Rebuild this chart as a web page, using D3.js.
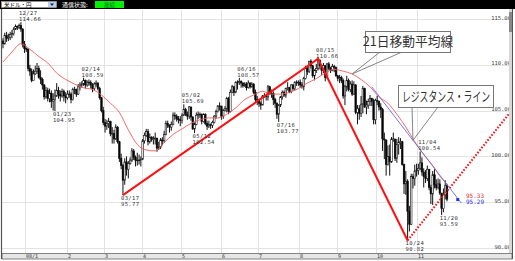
<!DOCTYPE html>
<html><head><meta charset="utf-8">
<script src="https://cdn.jsdelivr.net/npm/d3@7"></script>
<style>html,body{margin:0;padding:0;background:#fff;overflow:hidden}svg{display:block}</style>
</head><body><svg id="c" width="515" height="261"></svg>
<script>
// ---------- DATA (USD/JPY daily) ----------
const firstOpen = 112.6;
const closeDec07 = [112.3,113.2,112.9,113.0,113.3,113.4,113.9,114.2,114.1,114.3,113.9,112.2,111.8];
const highDec07  = [112.9,113.5,113.6,113.4,113.6,113.8,114.1,114.4,114.3,114.5,114.66,114.0,112.6];
const lowDec07   = [111.8,112.2,112.5,112.6,112.7,112.9,113.2,113.8,113.8,113.9,113.6,111.9,111.3];
const closeJan = [111.7,109.6,109.3,108.3,109.0,109.3,109.6,108.6,108.4,107.8,106.5,107.2,106.3,106.9,106.0,106.2,106.6,107.2,106.8,106.6,107.1,106.6,106.4];
const highJan  = [111.9,111.8,110.0,109.6,109.5,109.9,110.2,109.9,109.4,108.6,107.9,107.6,107.5,107.4,107.2,106.9,107.3,108.0,107.6,107.2,107.4,107.3,107.0];
const lowJan   = [111.4,109.3,108.8,108.1,108.7,108.9,109.0,108.5,107.9,107.3,106.2,106.3,106.0,105.9,105.3,105.0,104.95,106.5,106.3,106.0,106.4,106.0,105.8];
const closeFeb = [106.8,106.8,106.2,107.3,107.3,106.8,107.6,107.8,107.9,108.3,107.8,108.1,108.1,107.8,107.4,107.9,108.0,107.4,106.4,105.0,103.7];
const highFeb  = [107.2,107.2,107.0,107.5,107.6,107.4,107.9,108.1,108.2,108.59,108.4,108.3,108.4,108.3,108.0,108.1,108.3,108.1,107.6,106.5,105.4];
const lowFeb   = [106.2,106.4,105.8,106.1,106.8,106.5,106.7,107.2,107.5,107.7,107.4,107.6,107.7,107.4,107.0,107.2,107.6,107.2,106.2,104.8,103.4];
const closeMar = [103.3,103.6,103.8,102.5,102.5,101.9,103.2,101.6,99.8,99.0,97.4,99.4,98.6,99.2,99.6,100.6,99.9,99.6,99.6,99.6,99.7];
const highMar  = [104.1,104.0,104.2,103.9,103.2,102.9,103.5,103.3,101.7,100.3,99.2,99.8,100.0,99.5,99.9,100.9,100.8,100.1,100.4,100.2,100.0];
const lowMar   = [102.6,102.9,103.1,102.2,101.4,101.4,101.8,101.4,99.4,98.6,95.77,96.9,97.9,97.6,99.1,99.4,99.6,98.9,99.0,99.1,98.9];
const closeApr = [101.7,102.3,102.7,101.6,102.1,101.9,101.9,102.0,100.9,101.0,101.8,101.7,102.4,103.6,103.4,103.2,103.5,104.5,104.4,104.1,104.0,103.9];
const highApr  = [101.9,102.6,103.0,103.0,102.5,102.2,102.2,102.6,102.0,101.6,102.0,102.1,102.8,103.9,103.9,103.5,103.8,104.8,104.8,104.6,104.4,104.4];
const lowApr   = [99.6,101.4,102.1,101.2,101.4,101.6,101.3,101.3,100.5,100.7,100.8,101.2,101.5,102.3,103.1,102.6,102.8,103.4,104.0,103.8,103.6,103.3];
const closeMay = [104.5,105.1,104.6,104.4,105.4,104.3,103.0,103.5,104.5,104.6,104.6,103.8,104.6,103.6,103.3,103.5,103.4,103.7,104.4,104.9,105.5,105.5];
const highMay  = [104.7,105.69,105.3,104.9,105.5,105.4,104.4,103.7,104.8,104.9,104.8,104.7,104.7,104.7,103.9,103.9,103.6,103.9,104.5,105.1,105.6,105.9];
const lowMay   = [103.6,104.4,104.4,104.0,104.1,103.9,102.9,102.54,103.4,104.1,104.2,103.5,103.7,103.4,102.9,103.1,103.0,103.1,103.6,104.1,104.8,105.0];
const closeJun = [104.4,105.0,105.2,106.3,104.9,107.0,107.6,107.0,108.1,108.1,108.2,108.0,107.7,107.9,107.5,108.0,107.6,107.9,107.0,106.2,106.2];
const highJun  = [105.5,105.2,105.5,106.5,106.5,107.3,107.8,107.7,108.2,108.3,108.57,108.3,108.1,108.1,108.1,108.3,108.1,108.1,108.0,107.3,106.6];
const lowJun   = [104.0,104.1,104.9,104.8,104.6,104.8,106.9,106.6,106.9,107.3,107.8,107.5,107.5,107.6,107.2,107.4,107.4,107.5,106.8,105.9,105.6];
const closeJul = [105.8,105.6,106.6,106.6,106.5,107.6,106.8,106.9,106.2,105.8,104.6,105.6,106.5,107.0,106.7,107.4,107.5,107.1,107.8,107.4,108.1,108.1,108.1];
const highJul  = [106.3,106.0,106.7,106.9,106.7,107.8,107.7,107.3,107.1,106.4,105.9,105.7,106.6,107.2,107.2,107.5,108.1,107.6,107.9,107.9,108.2,108.3,108.3];
const lowJul   = [105.4,105.1,105.6,106.4,106.1,106.1,106.8,106.4,105.6,105.3,104.1,103.77,105.4,106.2,106.5,106.4,107.2,106.9,106.9,107.2,107.2,107.7,107.7];
const closeAug = [107.8,107.6,108.5,109.6,109.3,110.4,109.9,108.8,109.4,109.6,110.5,109.9,109.4,109.9,108.6,110.1,109.6,109.4,109.8,109.7,108.8];
const highAug  = [108.4,108.1,108.7,109.9,109.8,110.4,110.6,110.0,109.5,110.1,110.66,110.6,110.0,110.2,110.0,110.2,110.3,109.8,110.1,110.0,109.8];
const lowAug   = [107.5,107.4,107.2,108.4,108.9,109.1,109.6,108.6,108.3,109.1,109.4,109.5,108.9,109.1,108.2,108.5,109.4,109.1,109.3,109.2,108.7];
const closeSep = [108.5,108.6,108.3,106.6,107.6,108.3,107.3,107.9,106.8,107.8,104.8,105.2,104.7,105.7,107.4,105.4,105.6,106.0,106.3,106.0,104.0,106.1];
const highSep  = [108.9,108.9,108.8,108.5,107.8,108.8,108.5,108.2,108.3,108.2,107.9,105.6,105.6,106.6,107.7,107.5,106.1,106.3,106.7,106.4,106.3,106.3];
const lowSep   = [108.2,108.0,108.0,106.3,105.6,107.1,107.1,107.0,106.6,106.7,104.6,103.5,104.0,104.3,104.7,105.3,104.6,105.2,105.5,105.5,103.5,103.5];
const closeOct = [106.0,105.4,105.1,101.9,101.8,99.1,100.0,99.4,101.9,101.9,99.8,101.3,101.5,101.6,99.1,97.0,97.3,94.0,92.6,97.8,97.6,98.4,98.5];
const highOct  = [106.6,106.1,105.8,105.3,102.6,101.8,101.2,101.3,102.1,102.6,101.6,101.9,102.1,102.0,101.7,99.2,98.4,97.5,94.6,98.1,98.1,99.1,99.2];
const lowOct   = [105.6,105.0,104.2,100.6,99.7,97.9,99.0,97.9,99.3,101.6,99.5,99.3,100.2,100.8,99.0,95.9,95.8,90.82,91.8,92.5,96.5,96.8,97.8];
const closeNov = [98.7,99.3,98.3,97.8,97.6,98.6,96.6,95.9,98.0,96.9,96.6,97.0,96.0,94.3,95.8,96.8,95.33];
const highNov  = [99.2,100.54,99.9,98.7,98.5,99.0,98.6,96.9,98.4,98.6,97.5,97.6,97.5,96.0,96.5,97.4,97.0];
const lowNov   = [98.0,98.5,97.9,96.6,97.1,97.3,96.3,94.8,94.7,96.5,96.3,96.4,95.8,93.59,93.9,95.3,95.1];

// 21-day moving average (trading-day index, value)
const maDay   = [0,5,10,15,20,25,30,35,40,45,50,55,60,65,70,75,80,85,90,95,100,105,110,115,120,125,130,135,140,145,150,155,160,165,170,175,180,185,190,195,200,205,210,215,220,225,230,235,240,245,248];
const maValue = [110.3,111.4,112.3,111.7,110.9,110.2,109.1,108.4,107.9,107.5,107.3,106.7,105.8,104.8,102.9,101.3,100.7,100.6,101.5,102.4,103.0,103.6,104.0,104.2,104.2,104.6,105.3,106.2,106.7,107.1,106.8,106.8,107.0,107.4,108.0,108.5,109.1,109.5,109.3,109.0,108.4,107.6,106.5,105.8,104.6,103.2,101.6,100.2,99.0,97.6,97.0];

// labelled highs/lows
const noteDates  = ["12/27","01/23","02/14","03/17","05/02","05/12","06/16","07/16","08/15","10/24","11/04","11/20"];
const notePrices = [114.66,104.95,108.59,95.77,105.69,102.54,108.57,103.77,110.66,90.82,100.54,93.59];
const noteSide   = ["h","l","h","l","h","l","h","l","h","l","h","l"];

const yTicks = [90,95,100,105,110,115];
const monthLabels = ["08/1","2","3","4","5","6","7","8","9","10","11"];
const trendDates = ["03/17","08/15","10/24"];
const projectionEnd = [284, 105.0];        // dotted line end (trading-day index, price)
const resistStart = [206, 107.6];
const resistEnd   = [256, 94.9];
const lastPrice = 95.33, resistNow = 95.29;

// ---------- BUILD ----------
const closes = [].concat(closeDec07,closeJan,closeFeb,closeMar,closeApr,closeMay,closeJun,closeJul,closeAug,closeSep,closeOct,closeNov);
const highs  = [].concat(highDec07,highJan,highFeb,highMar,highApr,highMay,highJun,highJul,highAug,highSep,highOct,highNov);
const lows   = [].concat(lowDec07,lowJan,lowFeb,lowMar,lowApr,lowMay,lowJun,lowJul,lowAug,lowSep,lowOct,lowNov);
const days = d3.timeDay.range(new Date(2007,11,13), new Date(2008,10,26)).filter(d => d.getDay()%6 !== 0);
const fmt = d3.timeFormat("%m/%d");
const data = days.map((d,i) => {
  const o = i === 0 ? firstOpen : closes[i-1], c = closes[i];
  return {i, d, o, c, h: Math.max(highs[i], o, c), l: Math.min(lows[i], o, c)};
});
const idxOf = s => data.findIndex(e => fmt(e.d) === s);

const svg = d3.select("#c");
const x = d3.scaleLinear().domain([0, 248]).range([3, 447]);
const y = d3.scaleLinear().domain([90, 115]).range([248, 19]);

svg.append("rect").attr("width",515).attr("height",261).attr("fill","#fff");

// grid
const grid = svg.append("g");
grid.selectAll("line.h").data(yTicks).join("line")
  .attr("x1",2).attr("x2",509).attr("y1",d=>Math.round(y(d))+0.5).attr("y2",d=>Math.round(y(d))+0.5)
  .attr("stroke","#e3e3e3").attr("stroke-width",1);
const monthStarts = data.filter((e,i)=> i>0 && e.d.getMonth() !== data[i-1].d.getMonth());
grid.selectAll("line.v").data(monthStarts).join("line")
  .attr("x1",d=>Math.round(x(d.i)-0.9)+0.5).attr("x2",d=>Math.round(x(d.i)-0.9)+0.5)
  .attr("y1",10).attr("y2",253).attr("stroke","#e3e3e3").attr("stroke-width",1);

// y labels
svg.append("g").selectAll("text").data(yTicks).join("text")
  .attr("x",511).attr("y",d=>y(d)+0.5).attr("text-anchor","end")
  .attr("font-family","DejaVu Sans Mono").attr("font-size",5.5).attr("fill","#444")
  .text(d=>d.toFixed(2));

// candles
const cg = svg.append("g");
cg.selectAll("line").data(data).join("line")
  .attr("x1",d=>x(d.i)).attr("x2",d=>x(d.i)).attr("y1",d=>y(d.h)).attr("y2",d=>y(d.l))
  .attr("stroke","#111").attr("stroke-width",1);
cg.selectAll("rect").data(data).join("rect")
  .attr("x",d=>x(d.i)-0.8).attr("width",1.6)
  .attr("y",d=>y(Math.max(d.o,d.c))).attr("height",d=>Math.max(0.7, Math.abs(y(d.o)-y(d.c))))
  .attr("fill",d=>d.c>=d.o?"#fff":"#000").attr("stroke","#111").attr("stroke-width",0.6);

// moving average
const maPts = maDay.map((d,k)=>({i:d, v:maValue[k]}));
svg.append("path").datum(maPts)
  .attr("d", d3.line().x(d=>x(d.i)).y(d=>y(d.v)).curve(d3.curveMonotoneX))
  .attr("fill","none").attr("stroke","#f05a5a").attr("stroke-width",0.9);

// trend lines
const tPts = trendDates.map(s => {const k = noteDates.indexOf(s); return [idxOf(s), notePrices[k]];});
svg.append("path").datum(tPts)
  .attr("d", d3.line().x(d=>x(d[0])).y(d=>y(d[1])))
  .attr("fill","none").attr("stroke","#ff1010").attr("stroke-width",2);
svg.append("path").datum([tPts[2], projectionEnd])
  .attr("d", d3.line().x(d=>x(d[0])).y(d=>y(d[1])))
  .attr("fill","none").attr("stroke","#ff1010").attr("stroke-width",2).attr("stroke-dasharray","1.6,1.6");

// resistance line
svg.append("path").datum([resistStart, resistEnd])
  .attr("d", d3.line().x(d=>x(d[0])).y(d=>y(d[1])))
  .attr("fill","none").attr("stroke","#6a6ae0").attr("stroke-width",0.9);
svg.append("rect").attr("x",x(254)-1.5).attr("y",y(resistNow)-1.5).attr("width",3).attr("height",3).attr("fill","#2233ee");
svg.append("text").attr("x",466).attr("y",y(lastPrice)-1.5)
  .attr("font-family","DejaVu Sans Mono").attr("font-size",6).attr("fill","#e83030").text(lastPrice.toFixed(2));
svg.append("text").attr("x",466).attr("y",y(resistNow)+4.5)
  .attr("font-family","DejaVu Sans Mono").attr("font-size",6).attr("fill","#3030e0").text(resistNow.toFixed(2));

// notes
const ng = svg.append("g").attr("font-family","DejaVu Sans Mono").attr("font-size",5.5).attr("fill","#333").attr("letter-spacing",0.4);
noteDates.forEach((s,k) => {
  const i = idxOf(s), p = notePrices[k];
  const xx = x(i) - 2, yy = y(p);
  const b1 = noteSide[k]==="h" ? yy-7 : yy+5;
  ng.append("text").attr("x",xx).attr("y",b1).text(s);
  ng.append("text").attr("x",xx).attr("y",b1+6).text(p.toFixed(2));
});

// callouts
function callout(bx,by,bw,bh,txt,fs,sx,p1,p2,tip){
  const g = svg.append("g");
  g.append("path").attr("d",`M${p1},${by+bh} L${tip[0]},${tip[1]} L${p2},${by+bh}`)
    .attr("fill","none").attr("stroke","#777").attr("stroke-width",0.9);
  g.append("rect").attr("x",bx+0.5).attr("y",by+0.5).attr("width",bw).attr("height",bh)
    .attr("fill","#fff").attr("stroke","#777").attr("stroke-width",1);
  g.append("text").attr("transform",`translate(${bx+bw/2+0.5},${by+bh/2+fs*0.36}) scale(${sx},1)`)
    .attr("text-anchor","middle")
    .attr("font-family","Noto Sans CJK JP").attr("font-size",fs).attr("fill","#333").text(txt);
}
callout(365,31,85,21,"21日移動平均線",13,0.98,380,402,[x(195), y(109.0)]);
const rAt = i => resistStart[1] + (resistEnd[1]-resistStart[1])*(i-resistStart[0])/(resistEnd[0]-resistStart[0]);
callout(398,85,95,22,"レジスタンス・ライン",13,0.68,412,438,[x(229), y(rAt(229))]);

// bottom axis band
svg.append("rect").attr("x",2).attr("y",253.5).attr("width",510).attr("height",5.5).attr("fill","#e6e6e6").attr("stroke","#666").attr("stroke-width",0.8);
svg.append("g").selectAll("text").data(monthStarts).join("text")
  .attr("x",(d,k)=>Math.round(x(d.i)-0.9)+1).attr("y",258.3)
  .attr("font-family","DejaVu Sans Mono").attr("font-size",5).attr("fill","#333")
  .text((d,k)=>monthLabels[k]);

// frame & scrollbar
svg.append("line").attr("x1",1.5).attr("x2",1.5).attr("y1",9).attr("y2",259).attr("stroke","#555").attr("stroke-width",1.2);
svg.append("rect").attr("x",509).attr("y",9).attr("width",3).attr("height",244).attr("fill","#d8d8d8");
svg.append("rect").attr("x",509).attr("y",12).attr("width",3).attr("height",20).attr("fill","#888");
svg.append("line").attr("x1",512.5).attr("x2",512.5).attr("y1",9).attr("y2",259).attr("stroke","#555").attr("stroke-width",1);

// top bar
svg.append("rect").attr("x",0).attr("y",0).attr("width",515).attr("height",9).attr("fill","#000");
svg.append("rect").attr("x",1.5).attr("y",1.5).attr("width",55).attr("height",6).attr("fill","#fff").attr("stroke","#999").attr("stroke-width",0.6);
svg.append("text").attr("x",4).attr("y",7).attr("font-family","Noto Sans CJK JP").attr("font-size",5.5).attr("fill","#000").text("米ドル・円");
svg.append("rect").attr("x",48).attr("y",2).attr("width",8).attr("height",5).attr("fill","#bcd0ee");
svg.append("path").attr("d","M50,3.5 L54,3.5 L52,6 Z").attr("fill","#224");
svg.append("text").attr("x",62).attr("y",7).attr("font-family","Noto Sans CJK JP").attr("font-size",6).attr("fill","#fff").text("通信状態:");
svg.append("rect").attr("x",95).attr("y",1).attr("width",29).attr("height",7).attr("fill","#00f000");
svg.append("text").attr("x",109.5).attr("y",7).attr("text-anchor","middle").attr("font-family","Noto Sans CJK JP").attr("font-size",5.5).attr("fill","#063").text("接続");
</script></body></html>
